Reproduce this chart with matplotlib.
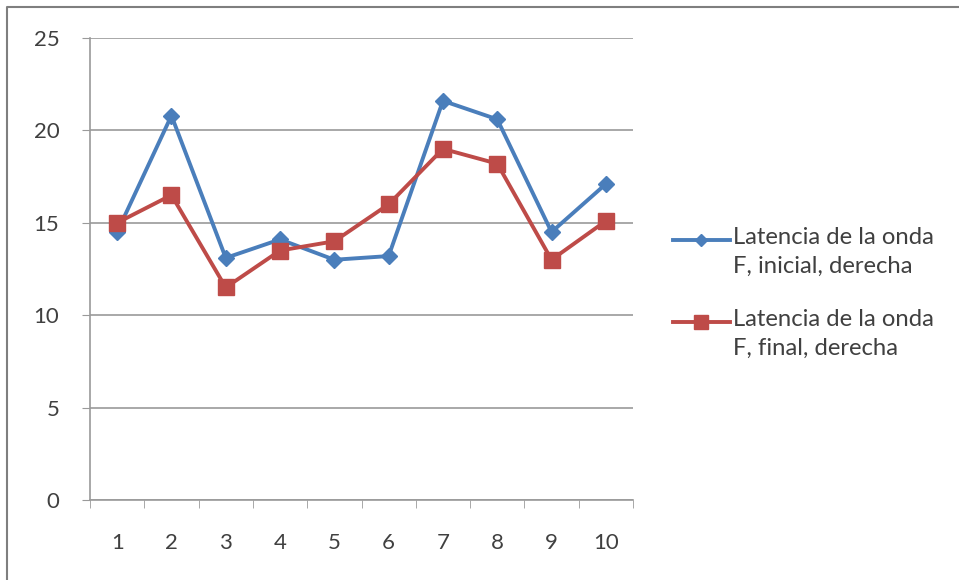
import matplotlib.pyplot as plt
from matplotlib.lines import Line2D

plt.rcParams['font.family'] = ['Lato', 'DejaVu Sans']

categorias = [1, 2, 3, 4, 5, 6, 7, 8, 9, 10]
inicial = [14.5, 20.8, 13.1, 14.1, 13.0, 13.2, 21.6, 20.6, 14.5, 17.1]
final = [15.0, 16.5, 11.5, 13.5, 14.0, 16.0, 19.0, 18.2, 13.0, 15.1]
etiquetas = ['Latencia de la onda\nF, inicial, derecha',
             'Latencia de la onda\nF, final, derecha']

azul = '#4A7EBB'
rojo = '#BE4B48'
gris = '#9A9A9A'
texto = '#404040'

fig = plt.figure(figsize=(9.59, 5.8), dpi=100)
ax = fig.add_axes([90/959, 1 - 500/580, 543/959, 462/580])

x = list(range(len(categorias)))
ax.plot(x, inicial, color=azul, lw=2.8, marker='D', ms=8, zorder=3)
ax.plot(x, final, color=rojo, lw=2.8, marker='s', ms=11, zorder=3)

ax.set_xlim(-0.5, len(categorias) - 0.5)
ax.set_ylim(0, 25)
ax.set_yticks([0, 5, 10, 15, 20, 25])
ax.set_xticks(x)
ax.set_xticklabels([str(c) for c in categorias])
ax.set_xticks([i - 0.5 for i in range(len(categorias) + 1)], minor=True)
ax.grid(axis='y', color=gris, lw=1.2)
ax.set_axisbelow(True)

for lado in ['top', 'right']:
    ax.spines[lado].set_visible(False)
for lado in ['left', 'bottom']:
    ax.spines[lado].set_color(gris)
    ax.spines[lado].set_linewidth(1.2)

ax.tick_params(axis='x', which='major', length=0, pad=24, labelsize=16, labelcolor=texto)
ax.tick_params(axis='x', which='minor', length=6, color=gris)
ax.tick_params(axis='y', length=6, color=gris, pad=16, labelsize=16, labelcolor=texto)

# leyenda a la derecha
ys = [240, 322]
estilos = [(azul, 'D', 6), (rojo, 's', 10)]
for (c, m, s), y, lab in zip(estilos, ys, etiquetas):
    fy = 1 - y / 580
    fig.lines.append(Line2D([673/959, 730/959], [fy, fy], color=c, lw=2.8,
                            transform=fig.transFigure))
    fig.lines.append(Line2D([701/959], [fy], color=c, marker=m, ms=s,
                            transform=fig.transFigure))
    fig.text(733/959, fy + 13/580, lab, fontsize=17.2, color=texto,
             va='top', ha='left', linespacing=1.45)

# marco del grafico
fig.lines.append(Line2D([7/959, 7/959, 1], [0, 1 - 7/580, 1 - 7/580],
                        color='#7F7F7F', lw=1.5, transform=fig.transFigure))

fig.savefig('out.png', dpi=100)
